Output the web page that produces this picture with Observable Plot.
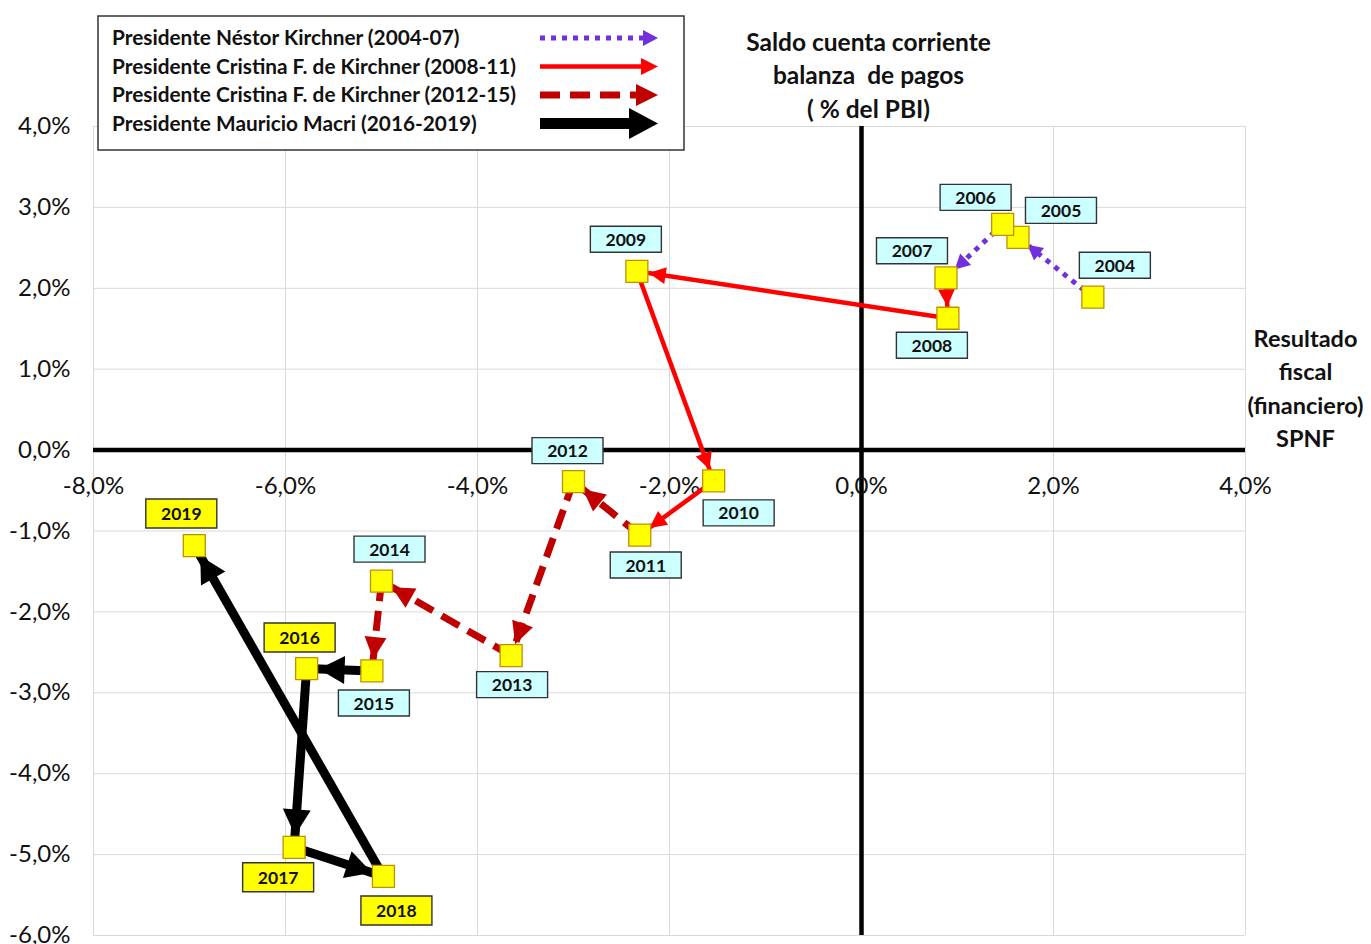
<!DOCTYPE html>
<html><head><meta charset="utf-8">
<script src="https://cdn.jsdelivr.net/npm/d3@7"></script>
<script src="https://cdn.jsdelivr.net/npm/@observablehq/plot@0.6"></script>
<style>
body{margin:0;background:#fff}
#chart svg{display:block}
</style>
</head><body><div id="chart"></div>
<script>
// ---- data ----
const years = [2004, 2005, 2006, 2007, 2008, 2009, 2010, 2011, 2012, 2013, 2014, 2015, 2016, 2017, 2018, 2019];
// Resultado fiscal (financiero) SPNF, % del PBI
const fiscal = [2.41, 1.63, 1.47, 0.88, 0.90, -2.34, -1.54, -2.31, -3.00, -3.65, -5.00, -5.10, -5.78, -5.91, -4.98, -6.95];
// Saldo cuenta corriente balanza de pagos, % del PBI
const cuenta = [1.89, 2.63, 2.79, 2.13, 1.63, 2.21, -0.38, -1.05, -0.39, -2.54, -1.62, -2.73, -2.70, -4.91, -5.27, -1.18];
// period of each year
const period = ["NK","NK","NK","NK","CFK1","CFK1","CFK1","CFK1","CFK2","CFK2","CFK2","CFK2","MM","MM","MM","MM"];
const periodKeys = ["NK", "CFK1", "CFK2", "MM"];
const legendLabels = [
  "Presidente Néstor Kirchner (2004-07)",
  "Presidente Cristina F. de Kirchner (2008-11)",
  "Presidente Cristina F. de Kirchner (2012-15)",
  "Presidente Mauricio Macri (2016-2019)"
];
const xTicks = [-8, -6, -4, -2, 0, 2, 4];
const yTicks = [-6, -5, -4, -3, -2, -1, 0, 1, 2, 3, 4];
const titleText = "Saldo cuenta corriente\nbalanza  de pagos\n( % del PBI)";
const xTitleText = "Resultado\nfiscal\n(financiero)\nSPNF";

// ---- styling ----
const styles = {
  NK:   {stroke: "#7030e0", width: 5,   dash: "5 6",   headLen: 15, headW: 16},
  CFK1: {stroke: "#ff0000", width: 4.5, dash: undefined, headLen: 17, headW: 17},
  CFK2: {stroke: "#c00000", width: 7,   dash: "20 10", headLen: 22, headW: 22},
  MM:   {stroke: "#000000", width: 9,   dash: undefined, headLen: 26, headW: 28}
};
// label box offsets (pixels) from each point
const labelOffsets = [[22,-32],[43,-27],[-27,-27],[-34,-27],[-16,27],[-11,-32],[25,32],[6,30],[-6,-31],[1,29],[8,-32],[2,32],[-7,-31],[-16,30],[13,34],[-13,-32]];
const fmt = d => d.toFixed(1).replace(".", ",") + "%";
const FONT = "Lato, 'Open Sans', sans-serif";

function rectSymbol(w, h) {
  return {draw(ctx) { ctx.moveTo(-w/2, -h/2); ctx.lineTo(w/2, -h/2); ctx.lineTo(w/2, h/2); ctx.lineTo(-w/2, h/2); ctx.closePath(); }};
}
function head(len, w, back) {
  return (color) => {
    const m = d3.create("svg:marker")
      .attr("markerUnits", "userSpaceOnUse").attr("orient", "auto")
      .attr("markerWidth", 1).attr("markerHeight", 1)
      .attr("refX", 0).attr("refY", 0).attr("overflow", "visible");
    m.append("path")
      .attr("d", `M${-back},0L${-back - len},${-w / 2}L${-back - len},${w / 2}Z`)
      .attr("fill", color).attr("stroke", "none").attr("stroke-dasharray", "none");
    return m.node();
  };
}

const idx = d3.range(years.length);
const segs = d3.range(1, years.length);

const linkMarks = periodKeys.map(p => {
  const s = styles[p];
  return Plot.link(segs.filter(i => period[i] === p), {
    x1: i => fiscal[i - 1], y1: i => cuenta[i - 1],
    x2: i => fiscal[i], y2: i => cuenta[i],
    stroke: s.stroke, strokeWidth: s.width, strokeDasharray: s.dash,
    markerEnd: head(s.headLen, s.headW, 12)
  });
});

const boxMarks = idx.map(i => Plot.dot([i], {
  x: i => fiscal[i], y: i => cuenta[i],
  dx: labelOffsets[i][0], dy: labelOffsets[i][1],
  r: 5,
  symbol: period[i] === "MM" ? rectSymbol(71, 29) : rectSymbol(71, 26),
  fill: period[i] === "MM" ? "#ffff00" : "#ccffff",
  stroke: "#333", strokeWidth: 1.4
}));
const labelMarks = idx.map(i => Plot.text([i], {
  x: i => fiscal[i], y: i => cuenta[i], text: i => String(years[i]),
  dx: labelOffsets[i][0], dy: labelOffsets[i][1] + 1,
  fontSize: 17.5, fontWeight: "bold", fill: "#111"
}));

const chart = Plot.plot({
  width: 1371, height: 944,
  marginLeft: 93, marginRight: 126, marginTop: 126, marginBottom: 9,
  x: {domain: [-8, 4], axis: null},
  y: {domain: [-6, 4], axis: null},
  style: {fontFamily: FONT, background: "#fff", overflow: "visible"},
  marks: [
    Plot.gridX({ticks: xTicks, stroke: "#d9d9d9", strokeOpacity: 1, strokeWidth: 1}),
    Plot.gridY({ticks: yTicks, stroke: "#d9d9d9", strokeOpacity: 1, strokeWidth: 1}),
    Plot.ruleY([0], {stroke: "#000", strokeWidth: 4.5}),
    Plot.ruleX([0], {stroke: "#000", strokeWidth: 4.5}),
    Plot.axisY({ticks: yTicks, tickFormat: fmt, tickSize: 0, tickPadding: 23, fontSize: 24, color: "#111", anchor: "left"}),
    Plot.text(xTicks, {x: d => d, y: () => 0, text: fmt, dy: 36, fontSize: 24, fill: "#111"}),
    ...linkMarks,
    Plot.dot(idx, {x: i => fiscal[i], y: i => cuenta[i], r: 5, symbol: rectSymbol(22, 22), fill: "#ffff00", stroke: "#bf9000", strokeWidth: 1.3}),
    ...boxMarks,
    ...labelMarks,
    Plot.text([titleText], {x: () => 0, y: () => 4, text: d => d, dx: 7, dy: -9, lineAnchor: "bottom", lineHeight: 1.36, fontSize: 24.5, fontWeight: "bold", fill: "#111"}),
    Plot.text([xTitleText], {x: () => 4, y: () => 0, text: d => d, dx: 60, dy: -3, lineAnchor: "bottom", lineHeight: 1.42, fontSize: 23.5, fontWeight: "bold", fill: "#111"})
  ]
});

// ---- legend (overlay box, top-left) ----
const svg = d3.select(chart);
const lg = svg.append("g").attr("font-family", FONT).attr("text-anchor", "start");
lg.append("rect").attr("x", 98).attr("y", 16).attr("width", 586).attr("height", 134)
  .attr("fill", "#fff").attr("stroke", "#333").attr("stroke-width", 1.5);
const legendY = [38, 66.5, 95, 123.5];
periodKeys.forEach((p, k) => {
  const s = styles[p];
  const y = legendY[k];
  lg.append("text").attr("x", 112).attr("y", y + 7).attr("font-size", 20.8)
    .attr("text-anchor", "start")
    .attr("font-weight", "bold").attr("fill", "#111").text(legendLabels[k]);
  const x0 = 540, x1 = 658;
  const hl = s.headLen + (p === "MM" ? 3 : 0), hw = s.headW + (p === "MM" ? 3 : 0);
  lg.append("line").attr("x1", x0).attr("x2", x1 - hl + 2).attr("y1", y).attr("y2", y)
    .attr("stroke", s.stroke).attr("stroke-width", p === "MM" ? 11 : s.width)
    .attr("stroke-dasharray", s.dash || null);
  lg.append("path").attr("d", `M${x1},${y}L${x1 - hl},${y - hw / 2}L${x1 - hl},${y + hw / 2}Z`).attr("fill", s.stroke);
});

document.getElementById("chart").append(chart);
</script>
</body></html>
